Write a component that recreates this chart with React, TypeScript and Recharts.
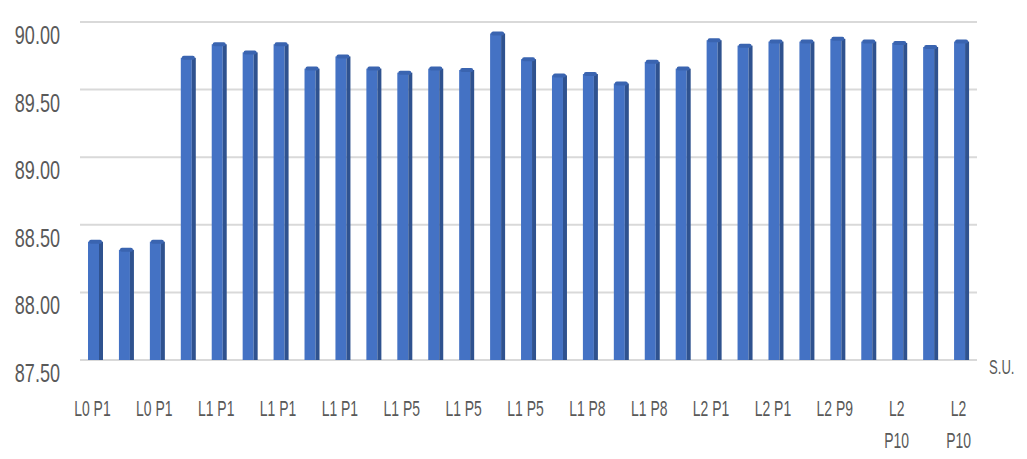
import { BarChart, Bar, XAxis, YAxis, CartesianGrid, ReferenceLine } from 'recharts';

const categories = [
  'L0 P1', 'L0 P1', 'L0 P1', 'L0 P1', 'L1 P1', 'L1 P1', 'L1 P1', 'L1 P1', 'L1 P1', 'L1 P1',
  'L1 P5', 'L1 P5', 'L1 P5', 'L1 P5', 'L1 P5', 'L1 P5', 'L1 P8', 'L1 P8', 'L1 P8', 'L1 P8',
  'L2 P1', 'L2 P1', 'L2 P1', 'L2 P1', 'L2 P9', 'L2 P9', 'L2 P10', 'L2 P10', 'L2 P10',
];

const values = [
  88.39, 88.33, 88.39, 89.75, 89.85, 89.79, 89.85, 89.67, 89.76, 89.67,
  89.64, 89.67, 89.66, 89.93, 89.74, 89.62, 89.63, 89.56, 89.72, 89.67,
  89.88, 89.84, 89.87, 89.87, 89.89, 89.87, 89.86, 89.83, 89.87,
];

const yTicks = [87.5, 88, 88.5, 89, 89.5, 90];

const data = categories.map((name, i) => ({ name, value: values[i] }));

const FONT = "'Liberation Sans', sans-serif";
const TEXT = '#595959';

// stretched text, the reference looks like a narrow font squeezed tall
const Stretch = ({ x, y, anchor, size, children, sx = 0.82 }: any) => (
  <g transform={`translate(${x},${y}) scale(${sx},1.25)`}>
    <text x={0} y={0} textAnchor={anchor} fill={TEXT} fontSize={size} fontFamily={FONT}>
      {children}
    </text>
  </g>
);

const Bar3D = (props: any) => {
  const { x, y, width, height } = props;
  if (height <= 0) return null;
  const side = 4;
  return (
    <g>
      <rect x={x} y={y + 2} width={width - side} height={height - 2} fill="#4472C4" />
      <rect x={x + width - side} y={y + 2} width={side} height={height - 2} fill="#2F528F" />
      <rect x={x + 1} y={y} width={width - 2} height={4} rx={2} fill="#3A64B0" />
    </g>
  );
};

const XTick = ({ x, y, payload }: any) => {
  const v: string = payload.value;
  const lines = v.length > 5 ? v.split(' ') : [v];
  return (
    <g>
      {lines.map((l, i) => (
        <Stretch key={i} x={x - 3} y={y + 48 + i * 32} anchor="middle" size={17}>
          {l}
        </Stretch>
      ))}
    </g>
  );
};

const YTick = ({ x, y, payload }: any) => (
  <Stretch x={x - 2} y={y + 22} anchor="end" size={21} sx={0.86}>
    {Number(payload.value).toFixed(2)}
  </Stretch>
);

export default function App() {
  return (
    <div style={{ position: 'absolute', left: 0, top: 0, background: '#fff' }}>
      <BarChart
        width={1027}
        height={459}
        data={data}
        margin={{ top: 22, right: 50, left: 10, bottom: 0 }}
      >
        <CartesianGrid vertical={false} stroke="#d9d9d9" strokeWidth={2} />
        <XAxis
          dataKey="name"
          interval={1}
          axisLine={false}
          tickLine={false}
          height={99}
          tick={<XTick />}
        />
        <YAxis
          domain={[87.5, 90]}
          ticks={yTicks}
          allowDataOverflow
          width={70}
          axisLine={false}
          tickLine={false}
          tickMargin={12}
          tick={<YTick />}
        />
        <ReferenceLine
          y={87.5}
          stroke="none"
          label={({ viewBox }: any) => (
            <Stretch x={viewBox.x + viewBox.width + 12} y={viewBox.y + 14} anchor="start" size={16}>
              S.U.
            </Stretch>
          )}
        />
        <Bar dataKey="value" barSize={15} shape={<Bar3D />} isAnimationActive={false} />
      </BarChart>
    </div>
  );
}
